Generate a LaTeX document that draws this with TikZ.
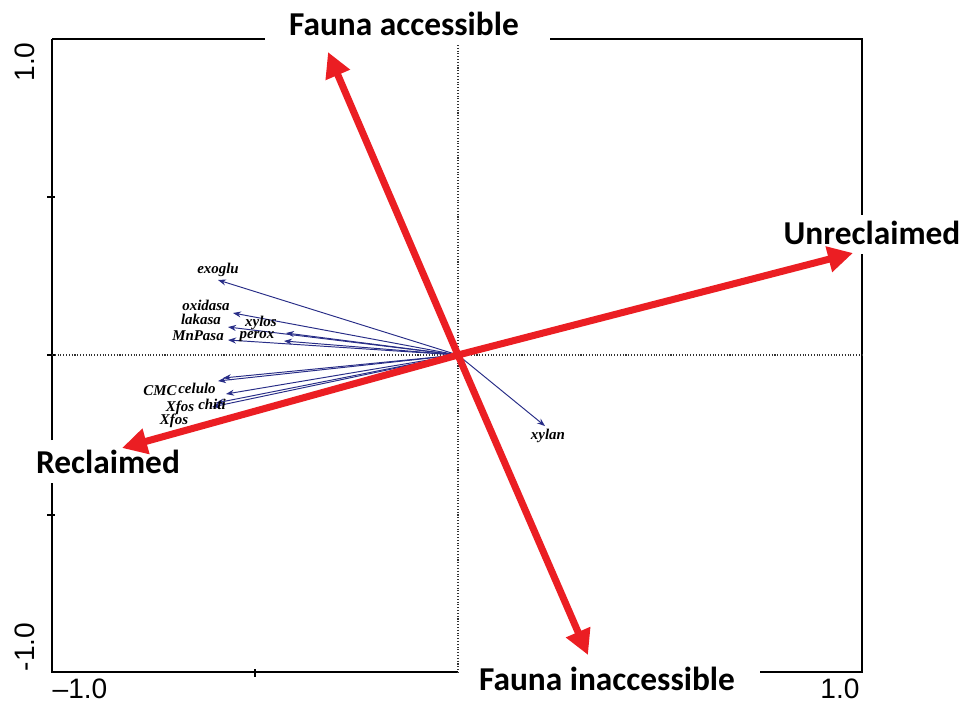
\documentclass[tikz,border=0pt]{standalone}
\usepackage{fontspec}
\setmainfont{Liberation Serif}
\newfontfamily\titlefont{Carlito}
\newfontfamily\tickfont{Liberation Sans}
\usetikzlibrary{arrows.meta, positioning}

\definecolor{ordred}{RGB}{235,30,35}
\definecolor{enzblue}{RGB}{40,45,135}

\begin{document}
\begin{tikzpicture}[
    x=0.02cm, y=-0.02cm,
    frame/.style={line width=1.1pt, black},
    zeroline/.style={densely dotted, line width=0.6pt, black!80},
    redarrow/.style={-{Triangle[length=0.5cm,width=0.5cm]}, line width=4pt, ordred},
    bluearrow/.style={-{Stealth[length=1.6mm,width=1.2mm]}, line width=0.55pt, enzblue},
    envlabel/.style={font=\titlefont\bfseries\fontsize{19}{21}\selectfont, inner sep=1pt},
    enzlabel/.style={font=\bfseries\itshape\fontsize{8.5}{9}\selectfont, inner sep=0pt},
    ticklabel/.style={font=\tickfont\fontsize{16}{18}\selectfont, inner sep=0pt}
]
\useasboundingbox (0,0) rectangle (960,704);

% Frame with gaps for the labels
\draw[frame] (52,39) -- (265,39);
\draw[frame] (550,39) -- (862,39) -- (862,215);
\draw[frame] (862,254) -- (862,672) -- (760,672);
\draw[frame] (458,672) -- (52,672) -- (52,483);
\draw[frame] (52,440) -- (52,39);

% Ticks
\foreach \ty in {197,355,515}
    \draw[frame] (47,\ty) -- (55,\ty);
\draw[frame] (255,669) -- (255,677);

% Tick labels
\node[ticklabel, rotate=90] (ymax) at (25,62) {1.0};
\node[ticklabel, rotate=90] (ymin) at (25,647) {-1.0};
\node[ticklabel] (xmin) at (80,689) {–1.0};
\node[ticklabel] (xmax) at (840,689) {1.0};

% Zero lines
\draw[zeroline] (458,45) -- (458,672);
\draw[zeroline] (52,355) -- (862,355);

% Origin and arrow tips
\coordinate (o) at (458,355);
\coordinate (tacc) at (328,52);
\coordinate (tinacc) at (588,655);
\coordinate (tunrec) at (853,253);
\coordinate (trec) at (122,448);

% Enzyme vectors
\coordinate (exoglu) at (218,280);
\coordinate (oxidasa) at (233,313);
\coordinate (lakasa) at (228,327);
\coordinate (mnpasa) at (228,340);
\coordinate (xylos) at (286,333);
\coordinate (perox) at (284,341);
\coordinate (cmc) at (218,381);
\coordinate (celulo) at (223,378);
\coordinate (chiti) at (226,394);
\coordinate (xfosa) at (216,403);
\coordinate (xfosb) at (212,407);
\coordinate (xylan) at (545,426);

\foreach \e in {exoglu,oxidasa,lakasa,mnpasa,xylos,perox,cmc,celulo,chiti,xfosa,xfosb,xylan}
    \draw[bluearrow] (o) -- (\e);

\node[enzlabel] (lexoglu) at (218,270) {exoglu};
\node[enzlabel] (loxidasa) at (206,305) {oxidasa};
\node[enzlabel] (llakasa) at (201,319) {lakasa};
\node[enzlabel] (lmnpasa) at (198,336) {MnPasa};
\node[enzlabel] (lxylos) at (261,323) {xylos};
\node[enzlabel] (lperox) at (257,337) {perox};
\node[enzlabel] (lcmc) at (160,391) {CMC};
\node[enzlabel] (lcelulo) at (197,388) {celulo};
\node[enzlabel] (lchiti) at (212,404) {chiti};
\node[enzlabel] (lxfosa) at (180,408) {Xfos};
\node[enzlabel] (lxfosb) at (174,421) {Xfos};
\node[enzlabel] (lxylan) at (548,436) {xylan};

% Environmental vectors
\draw[redarrow] (o) -- (tacc);
\draw[redarrow] (o) -- (tinacc);
\draw[redarrow] (o) -- (tunrec);
\draw[redarrow] (o) -- (trec);

\node[envlabel] (acc) at (404,24) {Fauna accessible};
\node[envlabel] (inacc) at (607,679) {Fauna inaccessible};
\node[envlabel] (unrec) at (872,233) {Unreclaimed};
\node[envlabel] (rec) at (108,462) {Reclaimed};

\end{tikzpicture}
\end{document}
